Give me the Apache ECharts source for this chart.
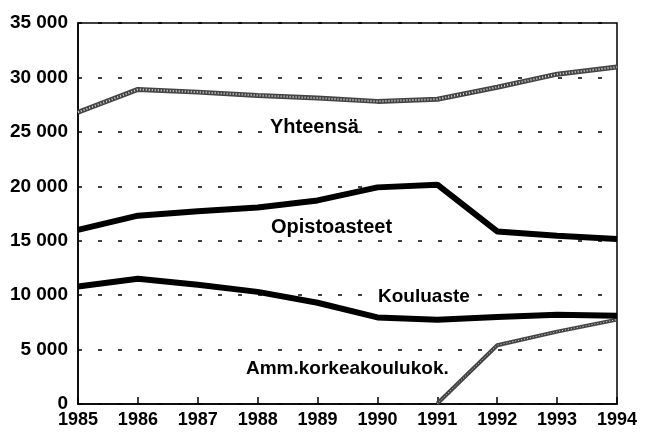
<!DOCTYPE html>
<html>
<head>
<meta charset="utf-8">
<script src="https://cdn.jsdelivr.net/npm/echarts@6/dist/echarts.min.js"></script>
<style>
  html, body { margin: 0; padding: 0; background: #fff; }
  #chart { width: 650px; height: 434px; }
</style>
</head>
<body>
<div id="chart"></div>
<script>
// vuodet
var years = ['1985', '1986', '1987', '1988', '1989', '1990', '1991', '1992', '1993', '1994'];

// sarjat luettu kuvasta
var yhteensa = [26800, 28900, 28650, 28350, 28100, 27800, 28000, 29100, 30300, 30950];
var opistoasteet = [16000, 17300, 17700, 18050, 18700, 19900, 20150, 15850, 15450, 15150];
var kouluaste = [10800, 11500, 10950, 10300, 9300, 7950, 7750, 8000, 8200, 8100];
var ammKorkea = [null, null, null, null, null, null, 50, 5400, 6650, 7750];

var seriesNames = ['Yhteensä', 'Opistoasteet', 'Kouluaste', 'Amm.korkeakoulukok.'];

var font = "'Liberation Sans', Arial, sans-serif";

function fmt(v) {
  if (v < 1000) return String(v);
  var s = String(v);
  return s.slice(0, s.length - 3) + ' ' + s.slice(s.length - 3);
}

// harmaa "kuvioitu" viiva: tumma pohja + vaalea pisteviiva päälle
function greyLine(name, data, w) {
  return [
    { name: name, type: 'line', data: data, symbol: 'none', z: 2,
      lineStyle: { color: '#444', width: w } },
    { name: name, type: 'line', data: data, symbol: 'none', z: 3, silent: true,
      lineStyle: { color: '#ddd', width: w - 3, type: [1, 2] } }
  ];
}

var myChart = echarts.init(document.getElementById('chart'));
myChart.setOption({
  animation: false,
  backgroundColor: '#fff',
  grid: {
    left: 78,
    right: 33,
    top: 23,
    bottom: 30,
    outerBoundsMode: 'none',
    show: true,
    borderColor: '#000',
    borderWidth: 1.5,
    backgroundColor: 'transparent'
  },
  xAxis: {
    type: 'category',
    data: years,
    boundaryGap: false,
    axisLine: { lineStyle: { color: '#000', width: 1.5 } },
    axisTick: { inside: true, length: 7, interval: 0, lineStyle: { color: '#000', width: 1.5 } },
    axisLabel: {
      interval: 0,
      color: '#000',
      fontFamily: font,
      fontWeight: 'bold',
      fontSize: 18,
      margin: 7
    },
    splitLine: { show: false }
  },
  yAxis: {
    type: 'value',
    min: 0,
    max: 35000,
    interval: 5000,
    axisLine: { show: true, lineStyle: { color: '#000', width: 1.5 } },
    axisTick: { show: false },
    axisLabel: {
      color: '#000',
      fontFamily: font,
      fontWeight: 'bold',
      fontSize: 19,
      margin: 10,
      formatter: fmt
    },
    splitLine: {
      show: true,
      lineStyle: { color: '#000', width: 1.5, type: [4, 16] }
    }
  },
  series: [].concat(
    greyLine(seriesNames[0], yhteensa, 5),
    [
      { name: seriesNames[1], type: 'line', data: opistoasteet, symbol: 'none',
        lineStyle: { color: '#000', width: 6 } },
      { name: seriesNames[2], type: 'line', data: kouluaste, symbol: 'none',
        lineStyle: { color: '#000', width: 6 } }
    ],
    greyLine(seriesNames[3], ammKorkea, 4)
  ),
  graphic: [
    { type: 'text', z: 100, left: 270, top: 117, style: { text: seriesNames[0], font: 'bold 20px ' + font, fill: '#000', backgroundColor: '#fff' } },
    { type: 'text', z: 100, left: 271, top: 217, style: { text: seriesNames[1], font: 'bold 20px ' + font, fill: '#000' } },
    { type: 'text', z: 100, left: 378, top: 287, style: { text: seriesNames[2], font: 'bold 19px ' + font, fill: '#000', backgroundColor: '#fff' } },
    { type: 'text', z: 100, left: 246, top: 359, style: { text: seriesNames[3], font: 'bold 19px ' + font, fill: '#000' } }
  ]
});
</script>
</body>
</html>
